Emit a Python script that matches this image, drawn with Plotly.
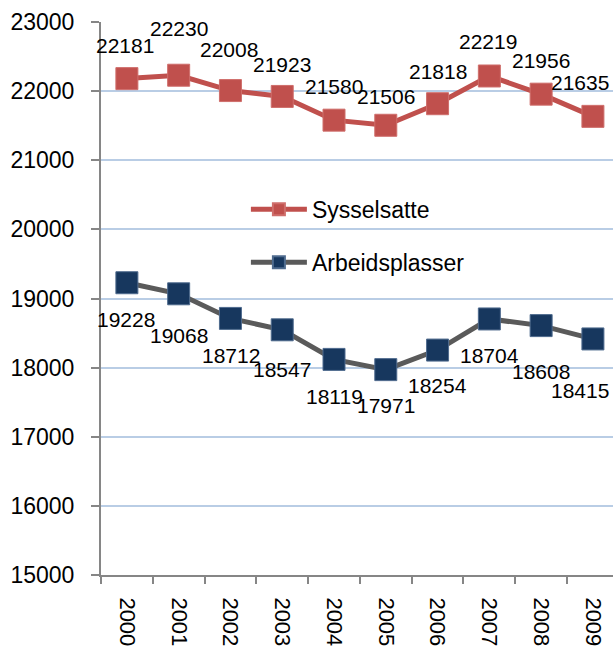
import plotly.graph_objects as go

years = ["2000", "2001", "2002", "2003", "2004", "2005", "2006", "2007", "2008", "2009"]
sysselsatte = [22181, 22230, 22008, 21923, 21580, 21506, 21818, 22219, 21956, 21635]
arbeidsplasser = [19228, 19068, 18712, 18547, 18119, 17971, 18254, 18704, 18608, 18415]

# label offsets in pixels (style only)
syss_dx = [-2, 0, -1, 0, 0, 0, 0, -1, 0, -13]
syss_dy = [33, 46.5, 41.5, 31.5, 34, 29, 32.5, 34.5, 34, 33.5]
arb_dx = [-1, 0, 1, 0, 0, 0, 0, 0, 0, -12.5]
arb_dy = [-36.5, -41.5, -37, -40, -37, -35.5, -35.5, -36.5, -46, -51.5]

RED = "#C0504D"
NAVY = "#17375E"
GRAY = "#5A5A5A"
FONT = "Arial, Liberation Sans, sans-serif"

fig = go.Figure()
fig.add_trace(go.Scatter(
    x=years, y=sysselsatte, name="Sysselsatte", mode="lines+markers",
    line=dict(color=RED, width=5),
    marker=dict(symbol="square", size=22, color=RED, line=dict(color="#CF6E6B", width=1)),
    legendgroup="a",
))
fig.add_trace(go.Scatter(
    x=years, y=arbeidsplasser, name="Arbeidsplasser", mode="lines+markers",
    line=dict(color=GRAY, width=5),
    marker=dict(symbol="square", size=22, color=NAVY, line=dict(color="#4F6B8E", width=1)),
    legendgroup="b",
))

annotations = []
for i, (v, dx, dy) in enumerate(zip(sysselsatte, syss_dx, syss_dy)):
    annotations.append(dict(x=i, y=v, xref="x", yref="y", text=str(v), showarrow=False,
                            xshift=dx, yshift=dy,
                            font=dict(family=FONT, size=21, color="black")))
for i, (v, dx, dy) in enumerate(zip(arbeidsplasser, arb_dx, arb_dy)):
    annotations.append(dict(x=i, y=v, xref="x", yref="y", text=str(v), showarrow=False,
                            xshift=dx, yshift=dy,
                            font=dict(family=FONT, size=21, color="black")))

fig.update_layout(
    width=613, height=652,
    margin=dict(l=101, r=0, t=22, b=77),
    paper_bgcolor="white", plot_bgcolor="white",
    font=dict(family=FONT, color="black"),
    showlegend=True,
    legend=dict(x=0.283, y=0.70, xanchor="left", yanchor="top",
                font=dict(family=FONT, size=23, color="black"),
                bgcolor="rgba(0,0,0,0)", itemsizing="constant", itemwidth=56,
                traceorder="grouped", tracegroupgap=20),
    annotations=annotations,
    xaxis=dict(type="category", range=[-0.5, 9.388], showgrid=False,
               showline=True, linecolor="#868686", linewidth=2,
               ticks="outside", ticklen=7, tickcolor="#868686", tickwidth=2,
               tickson="boundaries", tickangle=90,
               tickfont=dict(family=FONT, size=22, color="black"),
               ticklabelstandoff=16),
    yaxis=dict(range=[15000, 23000], dtick=1000, showgrid=True,
               gridcolor="#B9CDE5", gridwidth=1.5, zeroline=False,
               showline=True, linecolor="#868686", linewidth=2,
               ticks="outside", ticklen=8, tickcolor="#868686", tickwidth=2,
               tickfont=dict(family=FONT, size=23, color="black"),
               ticklabelstandoff=12, tickformat="d"),
)

fig.write_html("out.html", config={"displayModeBar": False},
               post_script="document.body.style.margin='0';document.body.style.overflow='hidden';")
